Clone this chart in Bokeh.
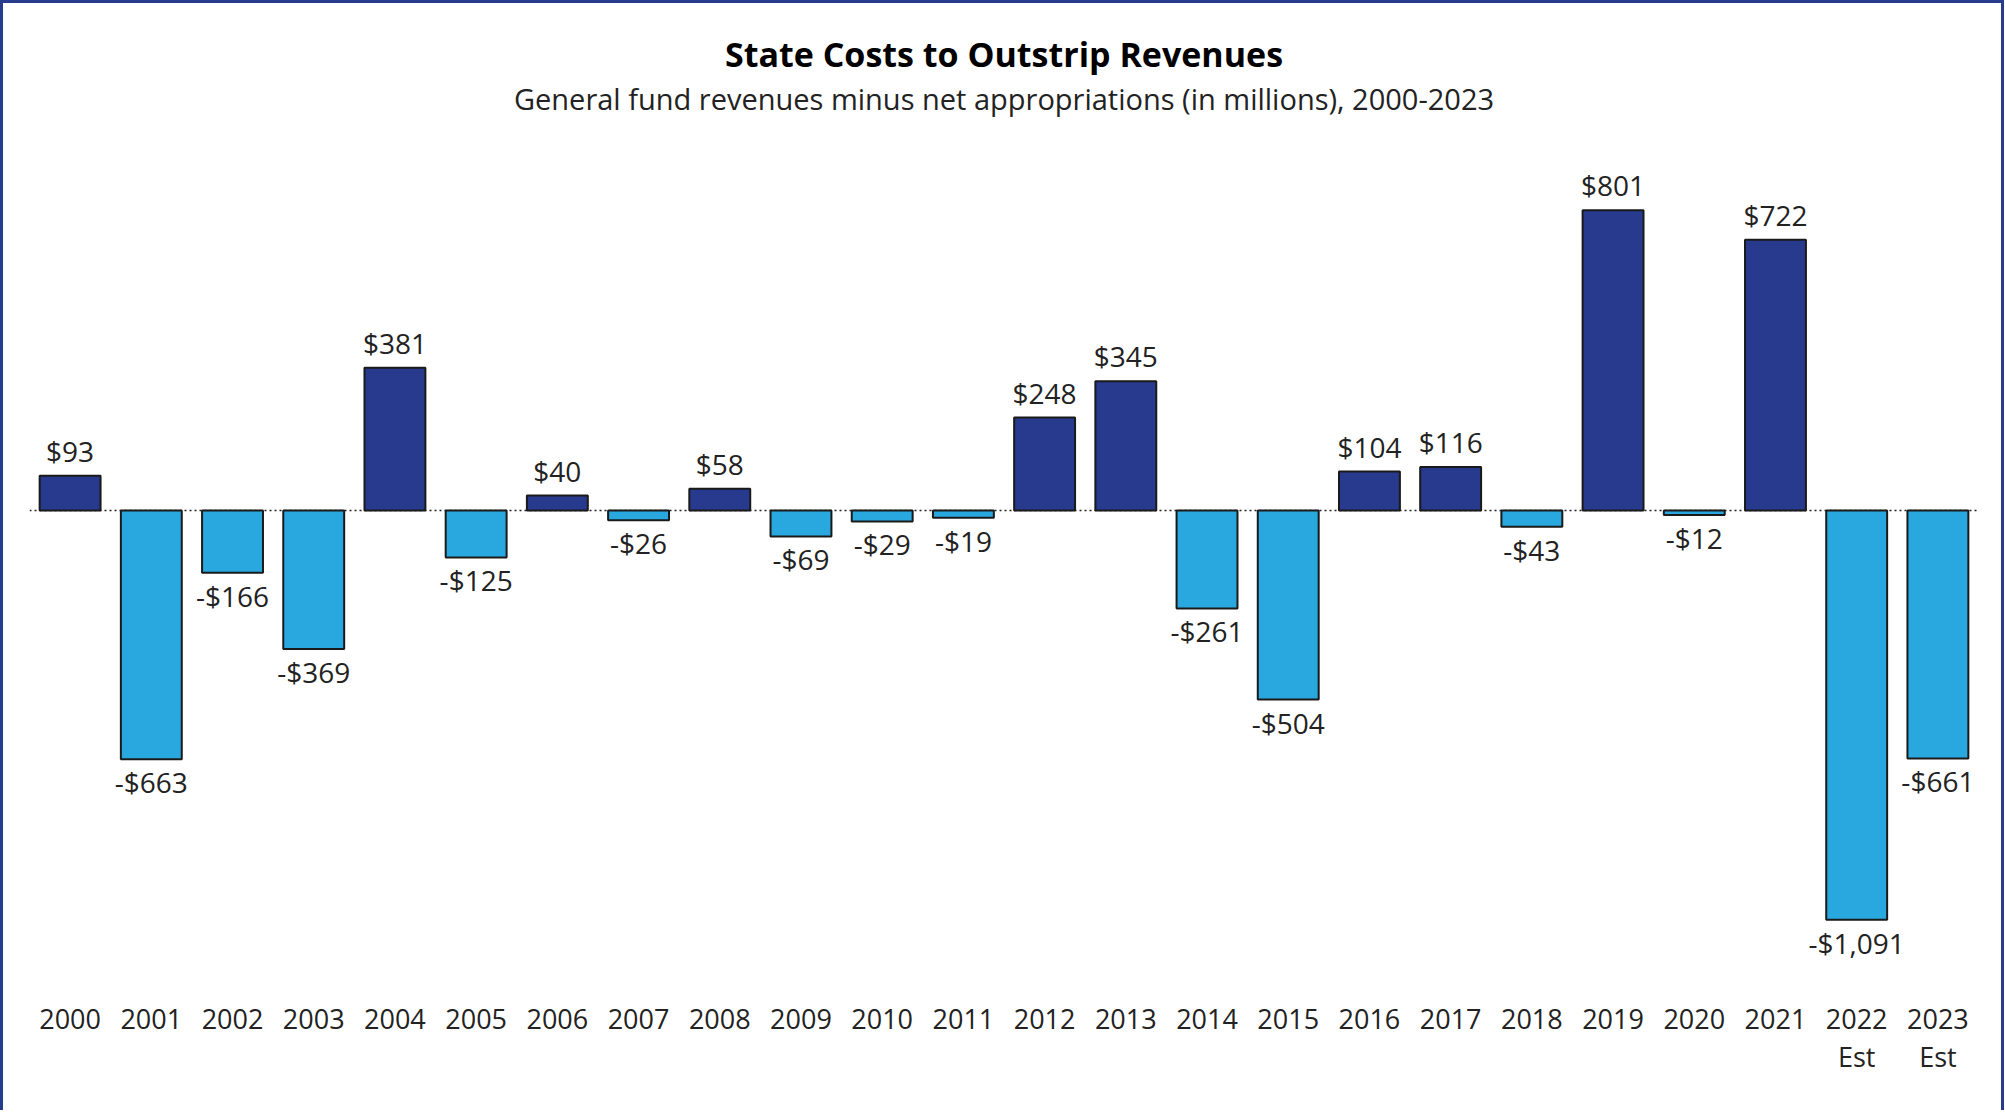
from bokeh.plotting import figure
from bokeh.models import ColumnDataSource, Span, Title, Range1d
from bokeh.embed import file_html
from bokeh.resources import INLINE
from bokeh.core.properties import value

years = ["2000", "2001", "2002", "2003", "2004", "2005", "2006", "2007",
         "2008", "2009", "2010", "2011", "2012", "2013", "2014", "2015",
         "2016", "2017", "2018", "2019", "2020", "2021", "2022\nEst", "2023\nEst"]
values = [93, -663, -166, -369, 381, -125, 40, -26, 58, -69, -29, -19,
          248, 345, -261, -504, 104, 116, -43, 801, -12, 722, -1091, -661]

DARK = "#273A8E"
LIGHT = "#28A8DF"
FONT = "Open Sans"

def fmt(v):
    return ("-$" if v < 0 else "$") + f"{abs(v):,}"

src = ColumnDataSource(dict(
    x=years,
    top=values,
    color=[DARK if v >= 0 else LIGHT for v in values],
    label=[fmt(v) for v in values],
    yoff=[-25 if v >= 0 else 23 for v in values],
))

p = figure(x_range=years, y_range=Range1d(-1288, 1048),
           width=2004, height=1110, output_backend="svg",
           toolbar_location=None, y_axis_location=None,
           min_border_left=29, min_border_right=26,
           min_border_top=117, min_border_bottom=117)
p.title.visible = False

p.add_layout(Title(text="General fund revenues minus net appropriations (in millions), 2000-2023",
                   align="center", text_font=FONT, text_font_size="29px",
                   text_font_style="normal", text_color="#222222",
                   standoff=0), "above")
p.add_layout(Title(text="State Costs to Outstrip Revenues", align="center",
                   text_font=FONT, text_font_size="34px", text_font_style="bold",
                   text_color="#000000", standoff=0), "above")

p.add_layout(Span(location=0, dimension="width", line_color="#222222",
                  line_width=1.5, line_dash="2 3", level="underlay"))

p.vbar(x="x", top="top", bottom=0, width=0.75, source=src,
       fill_color="color", line_color="#1a1a1a", line_width=2)

p.text(x="x", y="top", text="label", source=src, y_offset="yoff",
       text_align="center", text_baseline="alphabetic",
       text_font=value(FONT), text_font_size="28px", text_color="#222222")

p.xgrid.visible = False
p.ygrid.visible = False
p.outline_line_color = None
p.background_fill_color = "white"
p.border_fill_color = None
p.x_range.range_padding = 0

ax = p.xaxis[0]
ax.axis_line_color = None
ax.major_tick_line_color = None
ax.minor_tick_line_color = None
ax.major_label_standoff = 0
ax.major_label_text_font = FONT
ax.major_label_text_font_size = "27px"
ax.major_label_text_color = "#222222"
ax.major_label_text_line_height = 1.03
ax.major_label_orientation = "horizontal"

C = "#283C8E"
p.styles = {"background": (f"linear-gradient({C},{C}) left top / 3px 100% no-repeat, "
                           f"linear-gradient({C},{C}) left top / 100% 3px no-repeat, "
                           f"linear-gradient({C},{C}) right top / 3px 100% no-repeat, #ffffff")}

open("out.html", "w").write(file_html(p, INLINE))
